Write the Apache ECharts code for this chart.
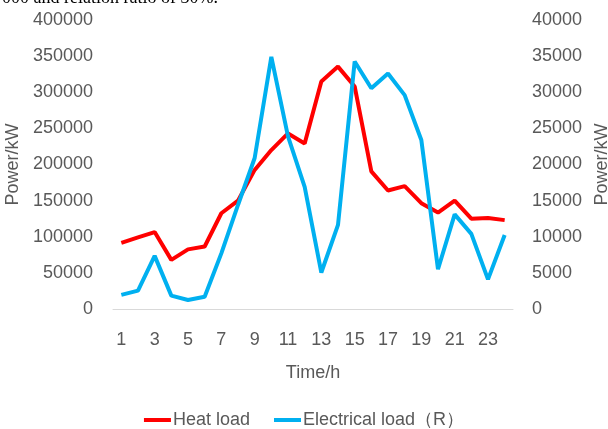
<!DOCTYPE html>
<html lang="en">
<head>
  <meta charset="utf-8">
  <title>Heat and electrical load</title>
  <script src="https://fastly.jsdelivr.net/npm/echarts@6/dist/echarts.min.js"></script>
  <style>
    * { margin: 0; padding: 0; }
    body { background: #fff; }
    #main { width: 608px; height: 429px; }
  </style>
</head>
<body>
  <div id="main"></div>
  <script>
    var hours = ['1','2','3','4','5','6','7','8','9','10','11','12',
                 '13','14','15','16','17','18','19','20','21','22','23','24'];
    // left axis, kW
    var heatLoad = [91500, 99000, 106500, 68000, 82500, 86500, 132500, 150000,
                    192500, 220000, 243000, 229000, 315000, 335500, 308000, 190500,
                    164000, 170000, 146500, 133500, 150000, 125000, 126000, 123000];
    // right axis, kW
    var elecLoad = [1950, 2550, 7350, 1850, 1250, 1700, 7700, 14400,
                    20900, 34900, 23900, 16900, 5050, 11650, 34250, 30550,
                    32600, 29600, 23400, 5500, 13100, 10400, 4100, 10250];

    var grey = '#595959';
    var font = 'Liberation Sans';

    var chart = echarts.init(document.getElementById('main'), null, { renderer: 'canvas' });

    function plain(v) { return String(v); }

    var option = {
      animation: false,
      textStyle: { fontFamily: font },
      graphic: [{
        type: 'text',
        left: 2,
        top: -11,
        style: {
          text: '000 and relation ratio of 30%.',
          font: '18px "Liberation Serif"',
          fill: '#000'
        }
      }],
      grid: { left: 113, right: 95, top: 20, bottom: 120, outerBoundsMode: 'none', containLabel: false },
      legend: {
        bottom: 0,
        left: 'center',
        padding: 0,
        itemWidth: 27,
        itemHeight: 4,
        itemGap: 24,
        icon: 'rect',
        textStyle: { color: grey, fontSize: 18, fontFamily: font, padding: [0, 0, 0, -3] },
        data: ['Heat load', 'Electrical load（R）']
      },
      xAxis: {
        type: 'category',
        data: hours,
        boundaryGap: true,
        name: 'Time/h',
        nameLocation: 'middle',
        nameGap: 55,
        nameTextStyle: { color: grey, fontSize: 18, fontFamily: font },
        axisLine: { lineStyle: { color: '#d9d9d9', width: 1 } },
        axisTick: { show: false },
        axisLabel: { color: grey, fontSize: 18, fontFamily: font, interval: 1, margin: 22 }
      },
      yAxis: [{
        type: 'value',
        min: 0,
        max: 400000,
        interval: 50000,
        name: 'Power/kW',
        nameLocation: 'middle',
        nameRotate: 90,
        nameGap: 73,
        nameTextStyle: { color: grey, fontSize: 18, fontFamily: font },
        axisLine: { show: false },
        axisTick: { show: false },
        splitLine: { show: false },
        axisLabel: { color: grey, fontSize: 18, fontFamily: font, margin: 20, formatter: plain }
      }, {
        type: 'value',
        min: 0,
        max: 40000,
        interval: 5000,
        name: 'Power/kW',
        nameLocation: 'middle',
        nameRotate: 90,
        nameGap: 78,
        nameTextStyle: { color: grey, fontSize: 18, fontFamily: font },
        axisLine: { show: false },
        axisTick: { show: false },
        splitLine: { show: false },
        axisLabel: { color: grey, fontSize: 18, fontFamily: font, margin: 19, formatter: plain }
      }],
      series: [{
        name: 'Heat load',
        type: 'line',
        yAxisIndex: 0,
        data: heatLoad,
        symbol: 'none',
        itemStyle: { color: '#ff0000' },
        lineStyle: { color: '#ff0000', width: 4 }
      }, {
        name: 'Electrical load（R）',
        type: 'line',
        yAxisIndex: 1,
        data: elecLoad,
        symbol: 'none',
        itemStyle: { color: '#00b0f0' },
        lineStyle: { color: '#00b0f0', width: 4 }
      }]
    };

    chart.setOption(option);
    window.addEventListener('resize', chart.resize);
  </script>
</body>
</html>
